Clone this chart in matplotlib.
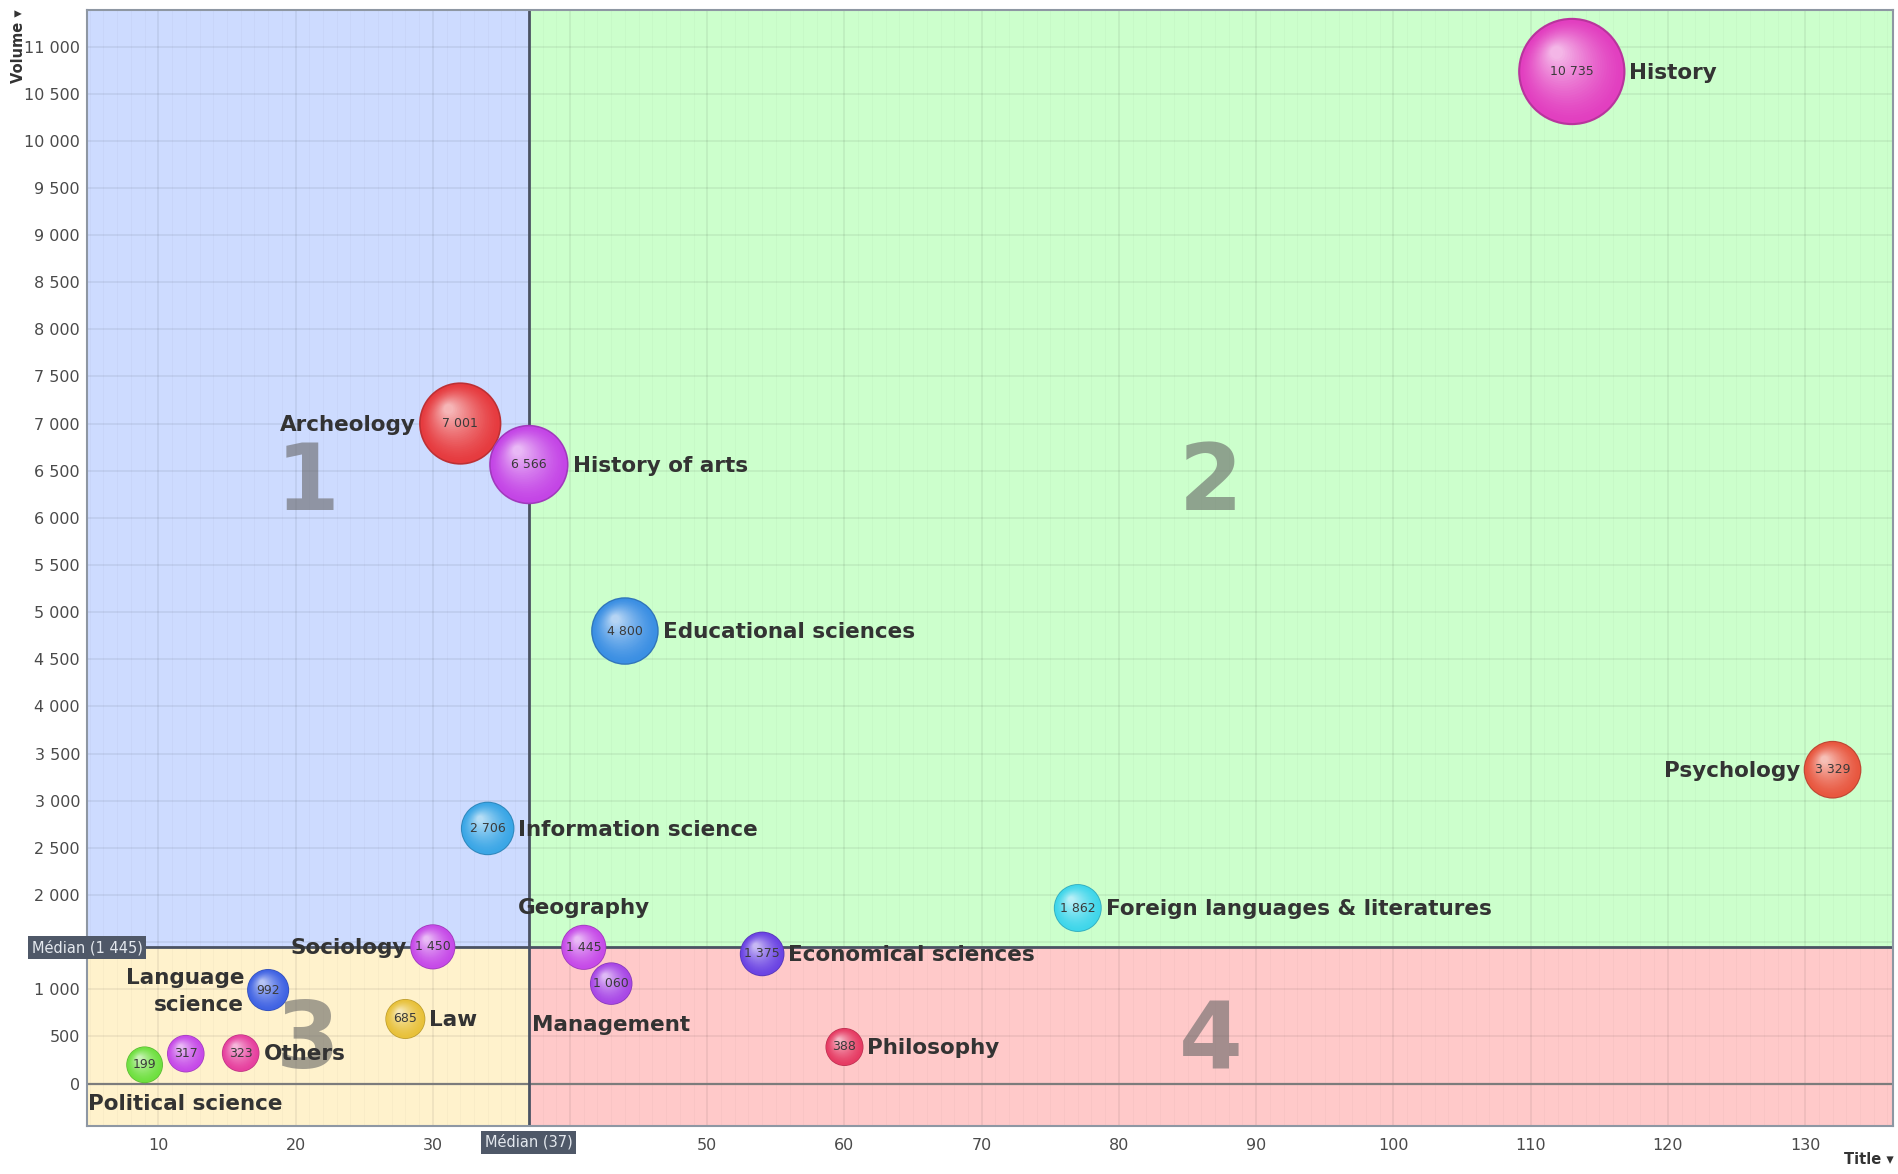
import numpy as np
import matplotlib.pyplot as plt
from matplotlib.patches import Rectangle
from matplotlib.transforms import offset_copy, blended_transform_factory
from matplotlib.ticker import FixedLocator, MultipleLocator, FuncFormatter
from matplotlib.colors import to_rgb

# data
subjects = ['History', 'Archeology', 'History of arts', 'Educational sciences',
            'Psychology', 'Information science', 'Foreign languages & literatures',
            'Sociology', 'Geography', 'Economical sciences', 'Management',
            'Philosophy', 'Language\nscience', 'Law', 'Others', '', 'Political science']
titles = [113, 32, 37, 44, 132, 34, 77, 30, 41, 54, 43, 60, 18, 28, 16, 12, 9]
volumes = [10735, 7001, 6566, 4800, 3329, 2706, 1862, 1450, 1445, 1375, 1060,
           388, 992, 685, 323, 317, 199]
median_title = 37
median_volume = 1445
x_ticks = list(range(10, 131, 10))
y_ticks = list(range(0, 11001, 500))
quadrant_names = ['1', '2', '3', '4']

# styling
bubble_colors = ['#e23fc0', '#e63b3f', '#c445e6', '#3b8fe3', '#e8573f', '#3aa6e6',
                 '#3fd6ea', '#c64ae8', '#c64ae8', '#6b44e3', '#a847e6', '#e63b63',
                 '#4063e3', '#e8c13a', '#e6409e', '#c64ae8', '#6fe03f']
label_side = ['right', 'left', 'right', 'right', 'left', 'right', 'right', 'left',
              'above', 'right', 'below', 'right', 'left', 'right', 'right', None, 'below']
quad_colors = ['#cddbff', '#ccffcc', '#fff2cc', '#ffc9c9']

xlim = (4.8, 136.4)
ylim = (-450, 11390)

fig = plt.figure(figsize=(18.99, 11.74), dpi=100)
ax = fig.add_axes([0.0458, 0.0409, 0.9510, 0.9508])
ax.set_xlim(*xlim)
ax.set_ylim(*ylim)

# quadrant backgrounds
quads = [
    (xlim[0], median_volume, median_title - xlim[0], ylim[1] - median_volume),
    (median_title, median_volume, xlim[1] - median_title, ylim[1] - median_volume),
    (xlim[0], ylim[0], median_title - xlim[0], median_volume - ylim[0]),
    (median_title, ylim[0], xlim[1] - median_title, median_volume - ylim[0]),
]
for (qx, qy, qw, qh), qc, qn in zip(quads, quad_colors, quadrant_names):
    ax.add_patch(Rectangle((qx, qy), qw, qh, facecolor=qc, edgecolor='none', zorder=0))
    ax.text(qx + qw / 2, qy + qh / 2 - 60, qn, fontsize=66, fontweight='bold',
            color='#666666', alpha=0.6, ha='center', va='center', zorder=1)

ax.xaxis.set_major_locator(FixedLocator(x_ticks))
ax.yaxis.set_major_locator(FixedLocator(y_ticks))
ax.xaxis.set_minor_locator(MultipleLocator(1))
ax.grid(which='major', color='black', alpha=0.07, lw=1.2, zorder=1)
ax.grid(which='minor', axis='x', color='black', alpha=0.025, lw=0.8, zorder=1)
ax.set_axisbelow(True)


def spaced(v, p=None):
    # the labels hidden under the median tags are left blank
    if v == 1500 or v == 40:
        return ''
    return f'{int(v):,}'.replace(',', ' ')


ax.yaxis.set_major_formatter(FuncFormatter(spaced))
ax.xaxis.set_major_formatter(FuncFormatter(spaced))
ax.tick_params(which='both', length=0)
ax.tick_params(axis='y', pad=5, labelsize=11.5, labelcolor='#4a4a4a')
ax.tick_params(axis='x', pad=9, labelsize=11.5, labelcolor='#4a4a4a')
for s in ax.spines.values():
    s.set_color('#8e97a3')
    s.set_linewidth(1.5)

ax.axhline(0, color='#7c7c7c', lw=1.6, zorder=2)
ax.axvline(median_title, color='#4a5262', lw=2, zorder=2)
ax.axhline(median_volume, color='#4a5262', lw=2, zorder=2)

# median tags
box = dict(boxstyle='square,pad=0.25', fc='#4f5868', ec='none')
ax.text(0, median_volume, f'Médian ({median_volume:,})'.replace(',', ' '),
        transform=blended_transform_factory(ax.transAxes, ax.transData),
        ha='center', va='center', fontsize=10.5, color='#e4e8ee', bbox=box,
        clip_on=False, zorder=6)
ax.text(median_title, -0.0145, f'Médian ({median_title})',
        transform=blended_transform_factory(ax.transData, ax.transAxes),
        ha='center', va='center', fontsize=10.5, color='#e4e8ee', bbox=box,
        clip_on=False, zorder=6)


def mix(c, t):
    c = np.array(to_rgb(c))
    return tuple(c + (1 - c) * t)


px2pt = 0.72
for x, v, name, col, side in zip(titles, volumes, subjects, bubble_colors, label_side):
    r_px = 17.7 + 0.00335 * v
    r_pt = r_px * px2pt
    edge = tuple(np.array(to_rgb(col)) * 0.82)
    ax.scatter([x], [v], s=(2 * r_pt) ** 2, color=[edge], edgecolors='none', zorder=4)
    n = 26
    for k in range(n + 1):
        f = 0.96 - 0.84 * k / n
        off = (0.96 - f) * r_pt * 0.42
        tr = offset_copy(ax.transData, fig=fig, x=-off * 0.8, y=off, units='points')
        ax.scatter([x], [v], s=(2 * r_pt * f) ** 2, color=[mix(col, 0.62 * (k / n) ** 1.4)],
                   edgecolors='none', transform=tr, zorder=4)
    ax.text(x, v, f'{v:,}'.replace(',', ' '), ha='center', va='center',
            fontsize=9, color='#3a3a3a', zorder=5)

    if not side:
        continue
    kw = dict(fontsize=15.5, fontweight='bold', color='#333333', zorder=5,
              textcoords='offset points', va='center')
    if side == 'right':
        ax.annotate(name, (x, v), xytext=((r_px + 4) * px2pt, -1), ha='left', **kw)
    elif side == 'left':
        ax.annotate(name, (x, v), xytext=(-(r_px + 3) * px2pt, -1), ha='right',
                    multialignment='right', linespacing=1.45, **kw)
    elif side == 'above':
        ax.annotate(name, (x, v), xytext=(0, 39 * px2pt), ha='center', **kw)
    elif name == 'Political science':
        ax.annotate(name, (x, v), xytext=(41 * px2pt, -39 * px2pt), ha='center', **kw)
    else:
        ax.annotate(name, (x, v), xytext=(0, -41 * px2pt), ha='center', **kw)

fig.text(0.0095, 0.992, 'Volume ▾', rotation=90, ha='center', va='top',
         fontsize=10.5, fontweight='bold', color='#333333')
fig.text(0.997, 0.006, 'Title ▾', ha='right', va='bottom',
         fontsize=10.5, fontweight='bold', color='#333333')

fig.savefig('out.png', dpi=100)
